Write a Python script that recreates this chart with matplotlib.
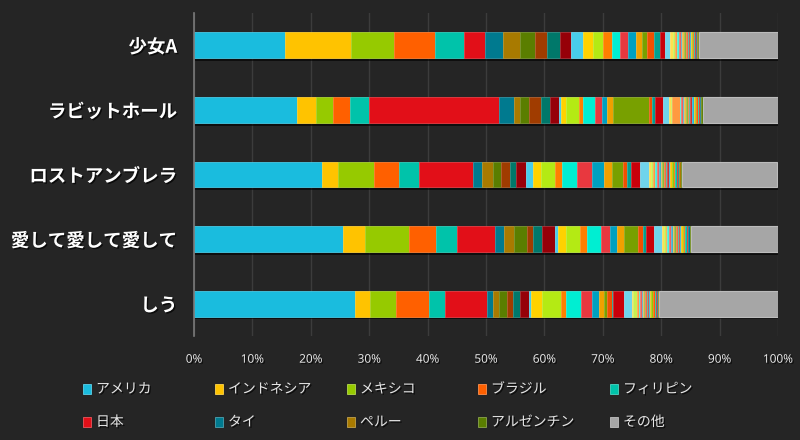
import matplotlib
matplotlib.use("Agg")
import matplotlib.pyplot as plt
import matplotlib.patheffects as pe
from matplotlib.patches import Rectangle
from matplotlib.colors import to_rgb
import numpy as np

plt.rcParams['font.family'] = ['Noto Sans CJK JP', 'DejaVu Sans']

songs = ['少女A', 'ラビットホール', 'ロストアンブレラ', '愛して愛して愛して', 'しう']

countries = ['アメリカ', 'インドネシア', 'メキシコ', 'ブラジル', 'フィリピン', '日本', 'タイ', 'ペルー', 'アルゼンチン',
             'チリ', 'コロンビア', 'スペイン', 'マレーシア', 'ベトナム', '台湾', '韓国', 'カナダ', 'イギリス',
             'エクアドル', 'オーストラリア', 'フランス', 'ドイツ', 'グアテマラ', 'ボリビア', 'イタリア',
             'シンガポール', '香港', 'インド', 'トルコ', 'ポーランド', 'オランダ', 'ロシア', 'ベネズエラ',
             'ホンジュラス', 'エルサルバドル', 'コスタリカ', 'パナマ', 'ドミニカ共和国', 'パラグアイ', 'ウルグアイ',
             'ニュージーランド', 'スウェーデン', 'ポルトガル', 'サウジアラビア', 'ニカラグア']
other_label = 'その他'

# share (%) of each country per song, in the order of `countries`
shoujo_a = [15.6, 11.2, 7.5, 7.0, 4.9, 3.7, 3.0, 2.9, 2.6, 2.1, 2.1, 2.0, 2.0, 1.7, 1.7, 1.5, 1.5, 1.4, 1.25,
            1.0, 1.0, 1.1, 1.0, 0.9, 0.85,
            0.45, 0.4, 0.35, 0.3, 0.35, 0.25, 0.3, 0.4, 0.3, 0.2, 0.2, 0.15, 0.2, 0.15, 0.15, 0.15, 0.1, 0.15, 0.2, 0.15]
rabbit_hole = [17.7, 3.2, 2.9, 2.85, 3.4, 22.1, 2.6, 1.1, 1.5, 2.05, 1.5, 1.6, 0.4, 0.85, 2.15, 0.75, 1.95, 1.25,
               0.9, 1.0, 6.1, 0.6, 0.45, 1.4, 1.1,
               0.25, 0.2, 1.3, 0.25, 0.3, 0.25, 0.3, 0.3, 0.25, 0.2, 0.3, 0.25, 0.2, 0.2, 0.3, 0.25, 0.15, 0.1, 0.1, 0.25]
lost_umbrella = [22.0, 2.7, 6.15, 4.3, 3.4, 9.3, 1.5, 1.9, 1.3, 1.5, 1.1, 1.7, 1.25, 1.25, 2.5, 1.2, 2.6, 2.5,
                 2.1, 1.25, 1.95, 0.75, 0.6, 1.55, 1.55,
                 0.3, 0.35, 0.4, 0.35, 0.3, 0.3, 0.25, 0.3, 0.3, 0.25, 0.3, 0.25, 0.3, 0.3, 0.25, 0.25, 0.25, 0.2, 0.25, 0.15]
aishite = [25.5, 3.7, 7.6, 4.6, 3.7, 6.5, 1.4, 1.8, 2.2, 1.0, 1.55, 2.3, 0.55, 1.25, 2.5, 1.15, 2.45, 1.55,
           1.2, 1.1, 2.4, 0.8, 0.55, 1.5, 1.25,
           0.35, 0.3, 0.3, 0.3, 0.35, 0.3, 0.25, 0.3, 0.25, 0.25, 0.2, 0.2, 0.25, 0.2, 0.2, 0.35, 0.2, 0.2, 0.15, 0.1]
shiu = [27.6, 2.6, 4.45, 5.65, 2.7, 7.25, 1.0, 1.0, 1.4, 1.0, 1.25, 1.4, 0.45, 1.9, 3.25, 0.75, 2.7, 1.75,
        1.3, 0.75, 0.55, 0.8, 0.3, 1.75, 1.4,
        0.3, 0.6, 0.3, 0.25, 0.25, 0.2, 0.2, 0.25, 0.2, 0.2, 0.2, 0.15, 0.2, 0.35, 0.3, 0.2, 0.15, 0.15, 0.15, 0.1]
other = [13.6, 12.9, 16.4, 14.9, 20.5]

ticks = [0, 10, 20, 30, 40, 50, 60, 70, 80, 90, 100]
tick_labels = [f'{t}%' for t in ticks]

palette = ['#1ABCDE', '#FFC300', '#96CA00', '#FF6000', '#00C3AA', '#E20F18', '#007A8F', '#A87A00', '#5A7E00',
           '#A03C00', '#00786A', '#960008',
           '#48CDEB', '#FFD200', '#B4EA14', '#FF7F00', '#00EED2', '#E8383F', '#00A0C0', '#F0A000', '#78A000',
           '#F05000', '#00A090', '#C8000A',
           '#6FD4EC', '#FFE04D', '#C8F050', '#FF9A40', '#40F0DC', '#F06060', '#40B0D0', '#F0B840', '#90B830',
           '#F07040', '#30B0A0', '#D03030']
other_color = '#A6A6A6'
BG = '#252525'


def lighten(c, f=0.25):
    r, g, b = to_rgb(c)
    return (r + (1 - r) * f, g + (1 - g) * f, b + (1 - b) * f)


data = np.array([shoujo_a, rabbit_hole, lost_umbrella, aishite, shiu])

fig = plt.figure(figsize=(8, 4.4), dpi=100, facecolor=BG)
ax = fig.add_axes([194 / 800, 1 - 336 / 440, 584 / 800, 323 / 440])
ax.set_facecolor(BG)

y = np.arange(len(songs))
left = np.zeros(len(songs))
shadow = [pe.SimplePatchShadow(offset=(1.0, -2.0), shadow_rgbFace='black', alpha=0.6), pe.Normal()]
for i, name in enumerate(countries):
    col = palette[i % len(palette)]
    bars = ax.barh(y, data[:, i], left=left, height=0.40, color=col, edgecolor=lighten(col, 0.2),
                   linewidth=0.6, label=name, zorder=3)
    for b in bars:
        b.set_path_effects(shadow)
    left = left + data[:, i]
bars = ax.barh(y, other, left=left, height=0.40, color=other_color, edgecolor=lighten(other_color, 0.25),
               linewidth=0.8, label=other_label, zorder=3)
for b in bars:
    b.set_path_effects(shadow)

ax.set_xlim(0, 100)
ax.set_ylim(len(songs) - 0.5, -0.5)
ax.set_xticks(ticks)
ax.set_xticklabels(tick_labels, family=['Open Sans', 'DejaVu Sans'], fontsize=8.5, color='#f0f0f0')
ax.set_yticks(y)
ax.set_yticklabels(songs, fontsize=13.3, fontweight='bold', color='white')
ax.tick_params(axis='x', length=0, pad=12)
ax.tick_params(axis='y', length=0, pad=12)
txt_shadow = [pe.withSimplePatchShadow(offset=(1, -1), shadow_rgbFace='black', alpha=0.7)]
for t in ax.get_xticklabels() + ax.get_yticklabels():
    t.set_path_effects(txt_shadow)
ax.grid(axis='x', color='#3c3c3c', linewidth=1, zorder=0)
ax.set_axisbelow(True)
for s in ['top', 'right', 'bottom']:
    ax.spines[s].set_visible(False)
ax.spines['left'].set_color('#7a7a7a')
ax.spines['left'].set_linewidth(1.2)
ax.spines['left'].set_zorder(4)

# legend: first nine countries and "other", 5 columns x 2 rows
legend_names = countries[:9] + [other_label]
legend_colors = palette[:9] + [other_color]
col_x = [83, 215, 347, 478, 610]
row_y = [389, 422]
for k, (nm, c) in enumerate(zip(legend_names, legend_colors)):
    cx = col_x[k % 5]
    cy = row_y[k // 5]
    fig.patches.append(Rectangle((cx / 800, 1 - (cy + 5) / 440), 8 / 800, 10 / 440,
                                 transform=fig.transFigure, facecolor=c, edgecolor=lighten(c, 0.3),
                                 linewidth=0.6))
    fig.text((cx + 13) / 800, 1 - cy / 440, nm, fontsize=10, color='#e6e6e6', va='center', ha='left',
             path_effects=txt_shadow)

fig.savefig('out.png', dpi=100, facecolor=BG)
